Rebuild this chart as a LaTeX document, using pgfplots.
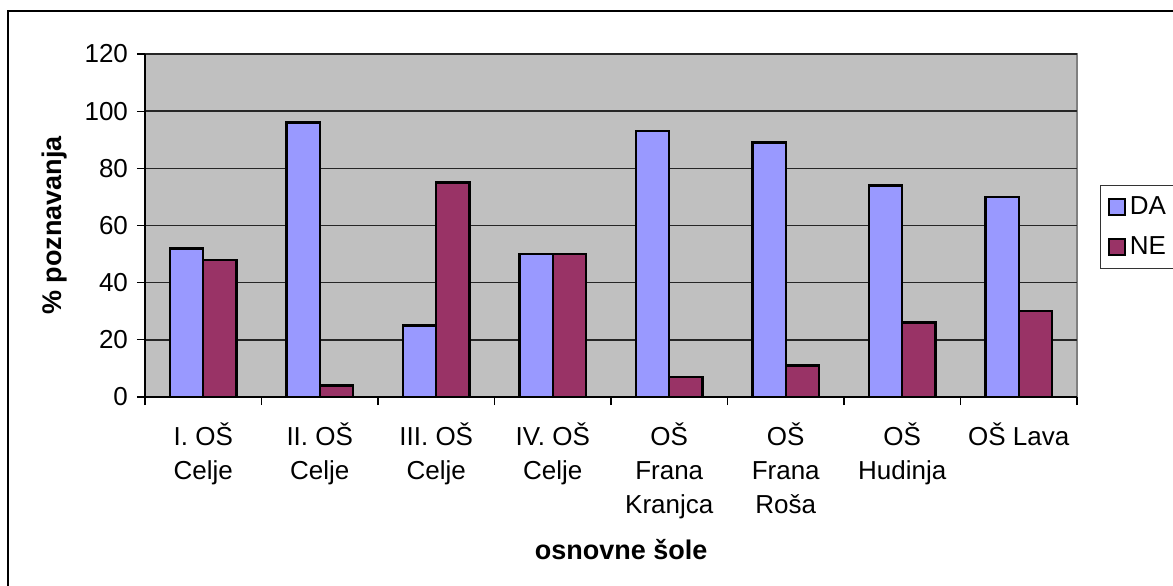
\documentclass[border=0pt]{standalone}
\usepackage{fontspec}
\setmainfont{Liberation Sans}
\usepackage{pgfplots}
\pgfplotsset{compat=1.18}
\definecolor{da}{HTML}{9999FF}
\definecolor{ne}{HTML}{993366}
\definecolor{plotbg}{HTML}{C0C0C0}
\pgfplotsset{sqlegend/.style={legend image code/.code={\draw[##1, line width=1.1pt] (0pt,-4pt) rectangle (8pt,4pt);}}}
\begin{document}
\begin{tikzpicture}
\clip (0,0) rectangle (586.5pt,292.5pt);
\draw[black, line width=0.6pt] (4pt,287pt) rectangle (600pt,-10pt);
\begin{axis}[
  at={(72.5pt,94pt)}, anchor=south west,
  scale only axis, width=466pt, height=171.5pt,
  xmin=-0.5, xmax=7.5, ymin=0, ymax=120,
  axis lines*=left,
  axis line style={black, line width=0.7pt},
  axis background/.style={fill=plotbg, draw=black!50, line width=0.8pt},
  ytick={0,20,...,120},
  ymajorgrids, grid style={black!85, line width=0.7pt},
  tick align=outside, major tick length=4pt,
  tick style={black, line width=0.6pt},
  /pgf/number format/assume math mode=true,
  yticklabel style={font=\fontsize{13}{15}\selectfont, xshift=-1pt},
  xtick={-0.5,0.5,...,7.5}, xticklabels={},
  extra x ticks={0,1,2,3,4,5,6,7},
  extra x tick labels={{I. OŠ\\Celje},{II. OŠ\\Celje},{III. OŠ\\Celje},{IV. OŠ\\Celje},{OŠ\\Frana\\Kranjca},{OŠ\\Frana\\Roša},{OŠ\\Hudinja},{OŠ Lava}},
  extra x tick style={major tick length=0pt},
  xticklabel style={align=center, font=\fontsize{13}{17}\selectfont, yshift=-9.5pt},
  xlabel={osnovne šole},
  xlabel style={font=\bfseries\fontsize{13.5}{15}\selectfont, at={(axis description cs:0.511,-0.446)}, anchor=center},
  ylabel={\% poznavanja},
  ylabel style={font=\bfseries\fontsize{13.5}{15}\selectfont, at={(axis description cs:-0.0966,0.5)}, anchor=center},
  legend cell align=left,
  legend style={at={(axis description cs:1.0247,0.618)}, anchor=north west, draw=black!80, line width=0.6pt, fill=white, font=\fontsize{13}{15}\selectfont, inner sep=3.5pt, row sep=5.5pt},
]
\addplot[ybar, bar width=16.67pt, bar shift=-8.33pt, fill=da, draw=black, line width=1.2pt, sqlegend]
  coordinates {(0,52) (1,96) (2,25) (3,50) (4,93) (5,89) (6,74) (7,70)};
\addplot[ybar, bar width=16.67pt, bar shift=8.33pt, fill=ne, draw=black, line width=1.2pt, sqlegend]
  coordinates {(0,48) (1,4) (2,75) (3,50) (4,7) (5,11) (6,26) (7,30)};
\legend{DA,NE}
\end{axis}
\end{tikzpicture}
\end{document}
